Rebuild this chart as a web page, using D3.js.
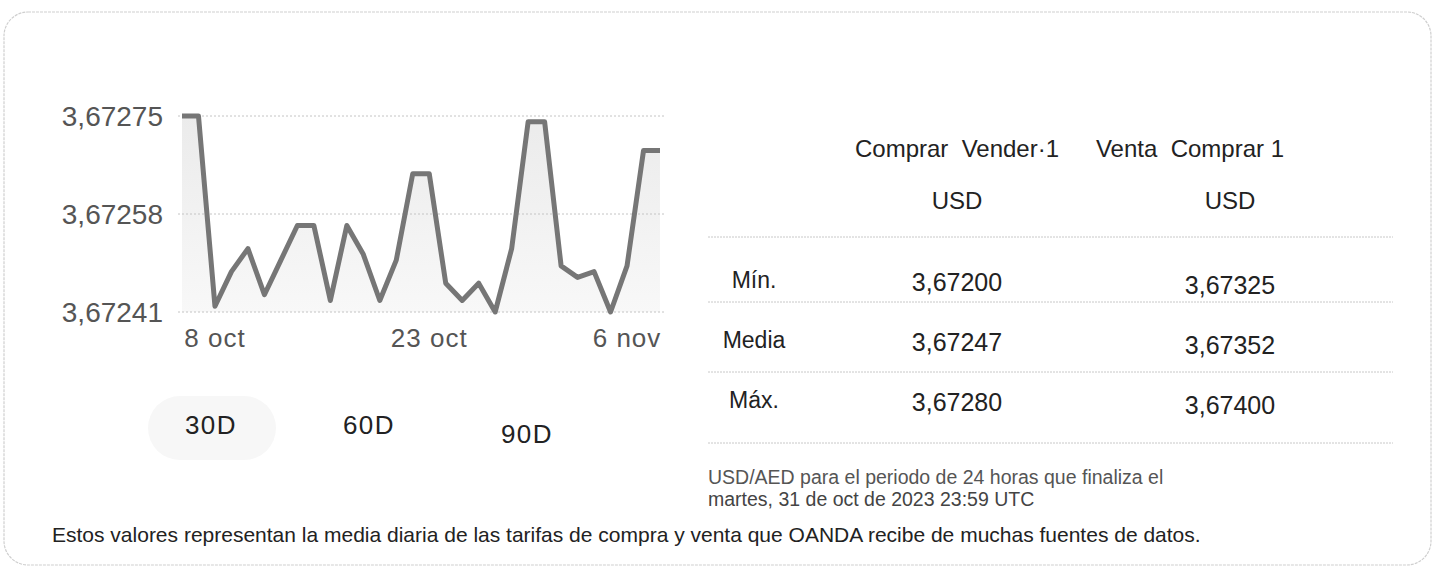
<!DOCTYPE html>
<html>
<head>
<meta charset="utf-8">
<script src="https://cdn.jsdelivr.net/npm/d3@7"></script>
<style>
  body { margin: 0; background: #fff; }
  svg text { font-family: "Liberation Sans", Arial, sans-serif; }
</style>
</head>
<body>
<div class="card"></div>
<script>
// data
var rates = [3.67275, 3.67275, 3.67242, 3.67248, 3.67252, 3.67244, 3.67250, 3.67256, 3.67256, 3.67243,
             3.67256, 3.67251, 3.67243, 3.67250, 3.67265, 3.67265, 3.67246, 3.67243, 3.67246, 3.67241,
             3.67252, 3.67274, 3.67274, 3.67249, 3.67247, 3.67248, 3.67241, 3.67249, 3.67269, 3.67269];
var yTicks = [3.67241, 3.67258, 3.67275];
var xTickLabels = ['8 oct', '23 oct', '6 nov'];
var xTickIndex = [2, 15, 27];
var ranges = ['30D', '60D', '90D'];

var colHeaders = [['Comprar  Vender·1', 'USD'], ['Venta  Comprar 1', 'USD']];
var rowLabels = ['Mín.', 'Media', 'Máx.'];
var bidValues = ['3,67200', '3,67247', '3,67280'];
var askValues = ['3,67325', '3,67352', '3,67400'];
var periodNote = ['USD/AED para el periodo de 24 horas que finaliza el', 'martes, 31 de oct de 2023 23:59 UTC'];
var footNote = 'Estos valores representan la media diaria de las tarifas de compra y venta que OANDA recibe de muchas fuentes de datos.';

var width = 1438, height = 577;
var fmt = function (v) { return d3.format('.5f')(v).replace('.', ','); };

var svg = d3.select('.card').append('svg')
  .attr('width', width)
  .attr('height', height);

// card outline
svg.append('rect')
  .attr('x', 4).attr('y', 12)
  .attr('width', 1427).attr('height', 553)
  .attr('rx', 24)
  .attr('fill', 'none')
  .attr('stroke', '#cfcfcf')
  .attr('stroke-dasharray', '3,1')
  .attr('stroke-width', 1.2);

// line chart
var x = d3.scaleLinear().domain([0, rates.length - 1]).range([182, 660]);
var y = d3.scaleLinear().domain([yTicks[0], yTicks[2]]).range([312, 116]);

var defs = svg.append('defs');
var grad = defs.append('linearGradient').attr('id', 'fillGrad')
  .attr('x1', 0).attr('y1', 0).attr('x2', 0).attr('y2', 1);
grad.append('stop').attr('offset', '0%').attr('stop-color', '#ebebeb');
grad.append('stop').attr('offset', '100%').attr('stop-color', '#f8f8f8');

var area = d3.area()
  .x(function (d, i) { return x(i); })
  .y0(y(yTicks[0]))
  .y1(function (d) { return y(d); });

svg.append('path')
  .datum(rates)
  .attr('d', area)
  .attr('fill', 'url(#fillGrad)');

// gridlines
svg.append('g').selectAll('line')
  .data(yTicks)
  .enter().append('line')
  .attr('x1', 178).attr('x2', 665)
  .attr('y1', function (d) { return y(d); })
  .attr('y2', function (d) { return y(d); })
  .attr('stroke', '#c4c4c4')
  .attr('stroke-dasharray', '2,2');

var line = d3.line()
  .x(function (d, i) { return x(i); })
  .y(function (d) { return y(d); });

svg.append('path')
  .datum(rates)
  .attr('d', line)
  .attr('fill', 'none')
  .attr('stroke', '#767676')
  .attr('stroke-width', 5)
  .attr('stroke-linejoin', 'round');

// y labels
svg.append('g').selectAll('text')
  .data(yTicks)
  .enter().append('text')
  .attr('x', 163)
  .attr('y', function (d) { return y(d); })
  .attr('dy', '0.36em')
  .attr('text-anchor', 'end')
  .attr('font-size', 28)
  .attr('fill', '#555')
  .text(fmt);

// x labels
svg.append('g').selectAll('text')
  .data(xTickLabels)
  .enter().append('text')
  .attr('x', function (d, i) { return x(xTickIndex[i]); })
  .attr('y', 347)
  .attr('text-anchor', 'middle')
  .attr('font-size', 26)
  .attr('letter-spacing', 1)
  .attr('fill', '#555')
  .text(function (d) { return d; });

// range buttons
svg.append('rect')
  .attr('x', 148).attr('y', 396)
  .attr('width', 128).attr('height', 64)
  .attr('rx', 32)
  .attr('fill', '#f7f7f7');

var rangeX = d3.scalePoint().domain(ranges).range([211, 527]);
svg.append('g').selectAll('text')
  .data(ranges)
  .enter().append('text')
  .attr('x', function (d) { return rangeX(d); })
  .attr('y', function (d, i) { return i === 2 ? 443 : 434; })
  .attr('text-anchor', 'middle')
  .attr('font-size', 26)
  .attr('letter-spacing', 1.5)
  .attr('fill', '#222')
  .text(function (d) { return d; });

// summary table
var colX = [957, 1230];
var rowY = d3.scalePoint().domain(rowLabels).range([280, 400]);
var table = svg.append('g').attr('fill', '#222');

colHeaders.forEach(function (h, c) {
  table.append('text')
    .attr('x', c === 0 ? colX[0] : 1190)
    .attr('y', 157)
    .attr('text-anchor', 'middle')
    .attr('font-size', 24)
    .attr('xml:space', 'preserve')
    .style('white-space', 'pre')
    .text(h[0]);
  table.append('text')
    .attr('x', colX[c])
    .attr('y', 209)
    .attr('text-anchor', 'middle')
    .attr('font-size', 24)
    .text(h[1]);
});

[237, 302, 372, 443].forEach(function (ly) {
  table.append('line')
    .attr('x1', 708).attr('x2', 1393)
    .attr('y1', ly).attr('y2', ly)
    .attr('stroke', '#c8c8c8')
    .attr('stroke-dasharray', '2,1');
});

rowLabels.forEach(function (r, i) {
  var yy = rowY(r);
  table.append('text')
    .attr('x', 754).attr('y', yy)
    .attr('dy', '0.36em')
    .attr('text-anchor', 'middle')
    .attr('font-size', 23)
    .text(r);
  table.append('text')
    .attr('x', colX[0]).attr('y', yy + 2)
    .attr('dy', '0.36em')
    .attr('text-anchor', 'middle')
    .attr('font-size', 25)
    .text(bidValues[i]);
  table.append('text')
    .attr('x', colX[1]).attr('y', yy + 5)
    .attr('dy', '0.36em')
    .attr('text-anchor', 'middle')
    .attr('font-size', 25)
    .text(askValues[i]);
});

// notes
svg.append('g').selectAll('text')
  .data(periodNote)
  .enter().append('text')
  .attr('x', 708)
  .attr('y', function (d, i) { return 484 + i * 22; })
  .attr('font-size', 19.5)
  .attr('fill', function (d, i) { return i ? '#444' : '#555'; })
  .text(function (d) { return d; });

svg.append('text')
  .attr('x', 52).attr('y', 542)
  .attr('font-size', 21)
  .attr('fill', '#222')
  .text(footNote);
</script>
</body>
</html>
